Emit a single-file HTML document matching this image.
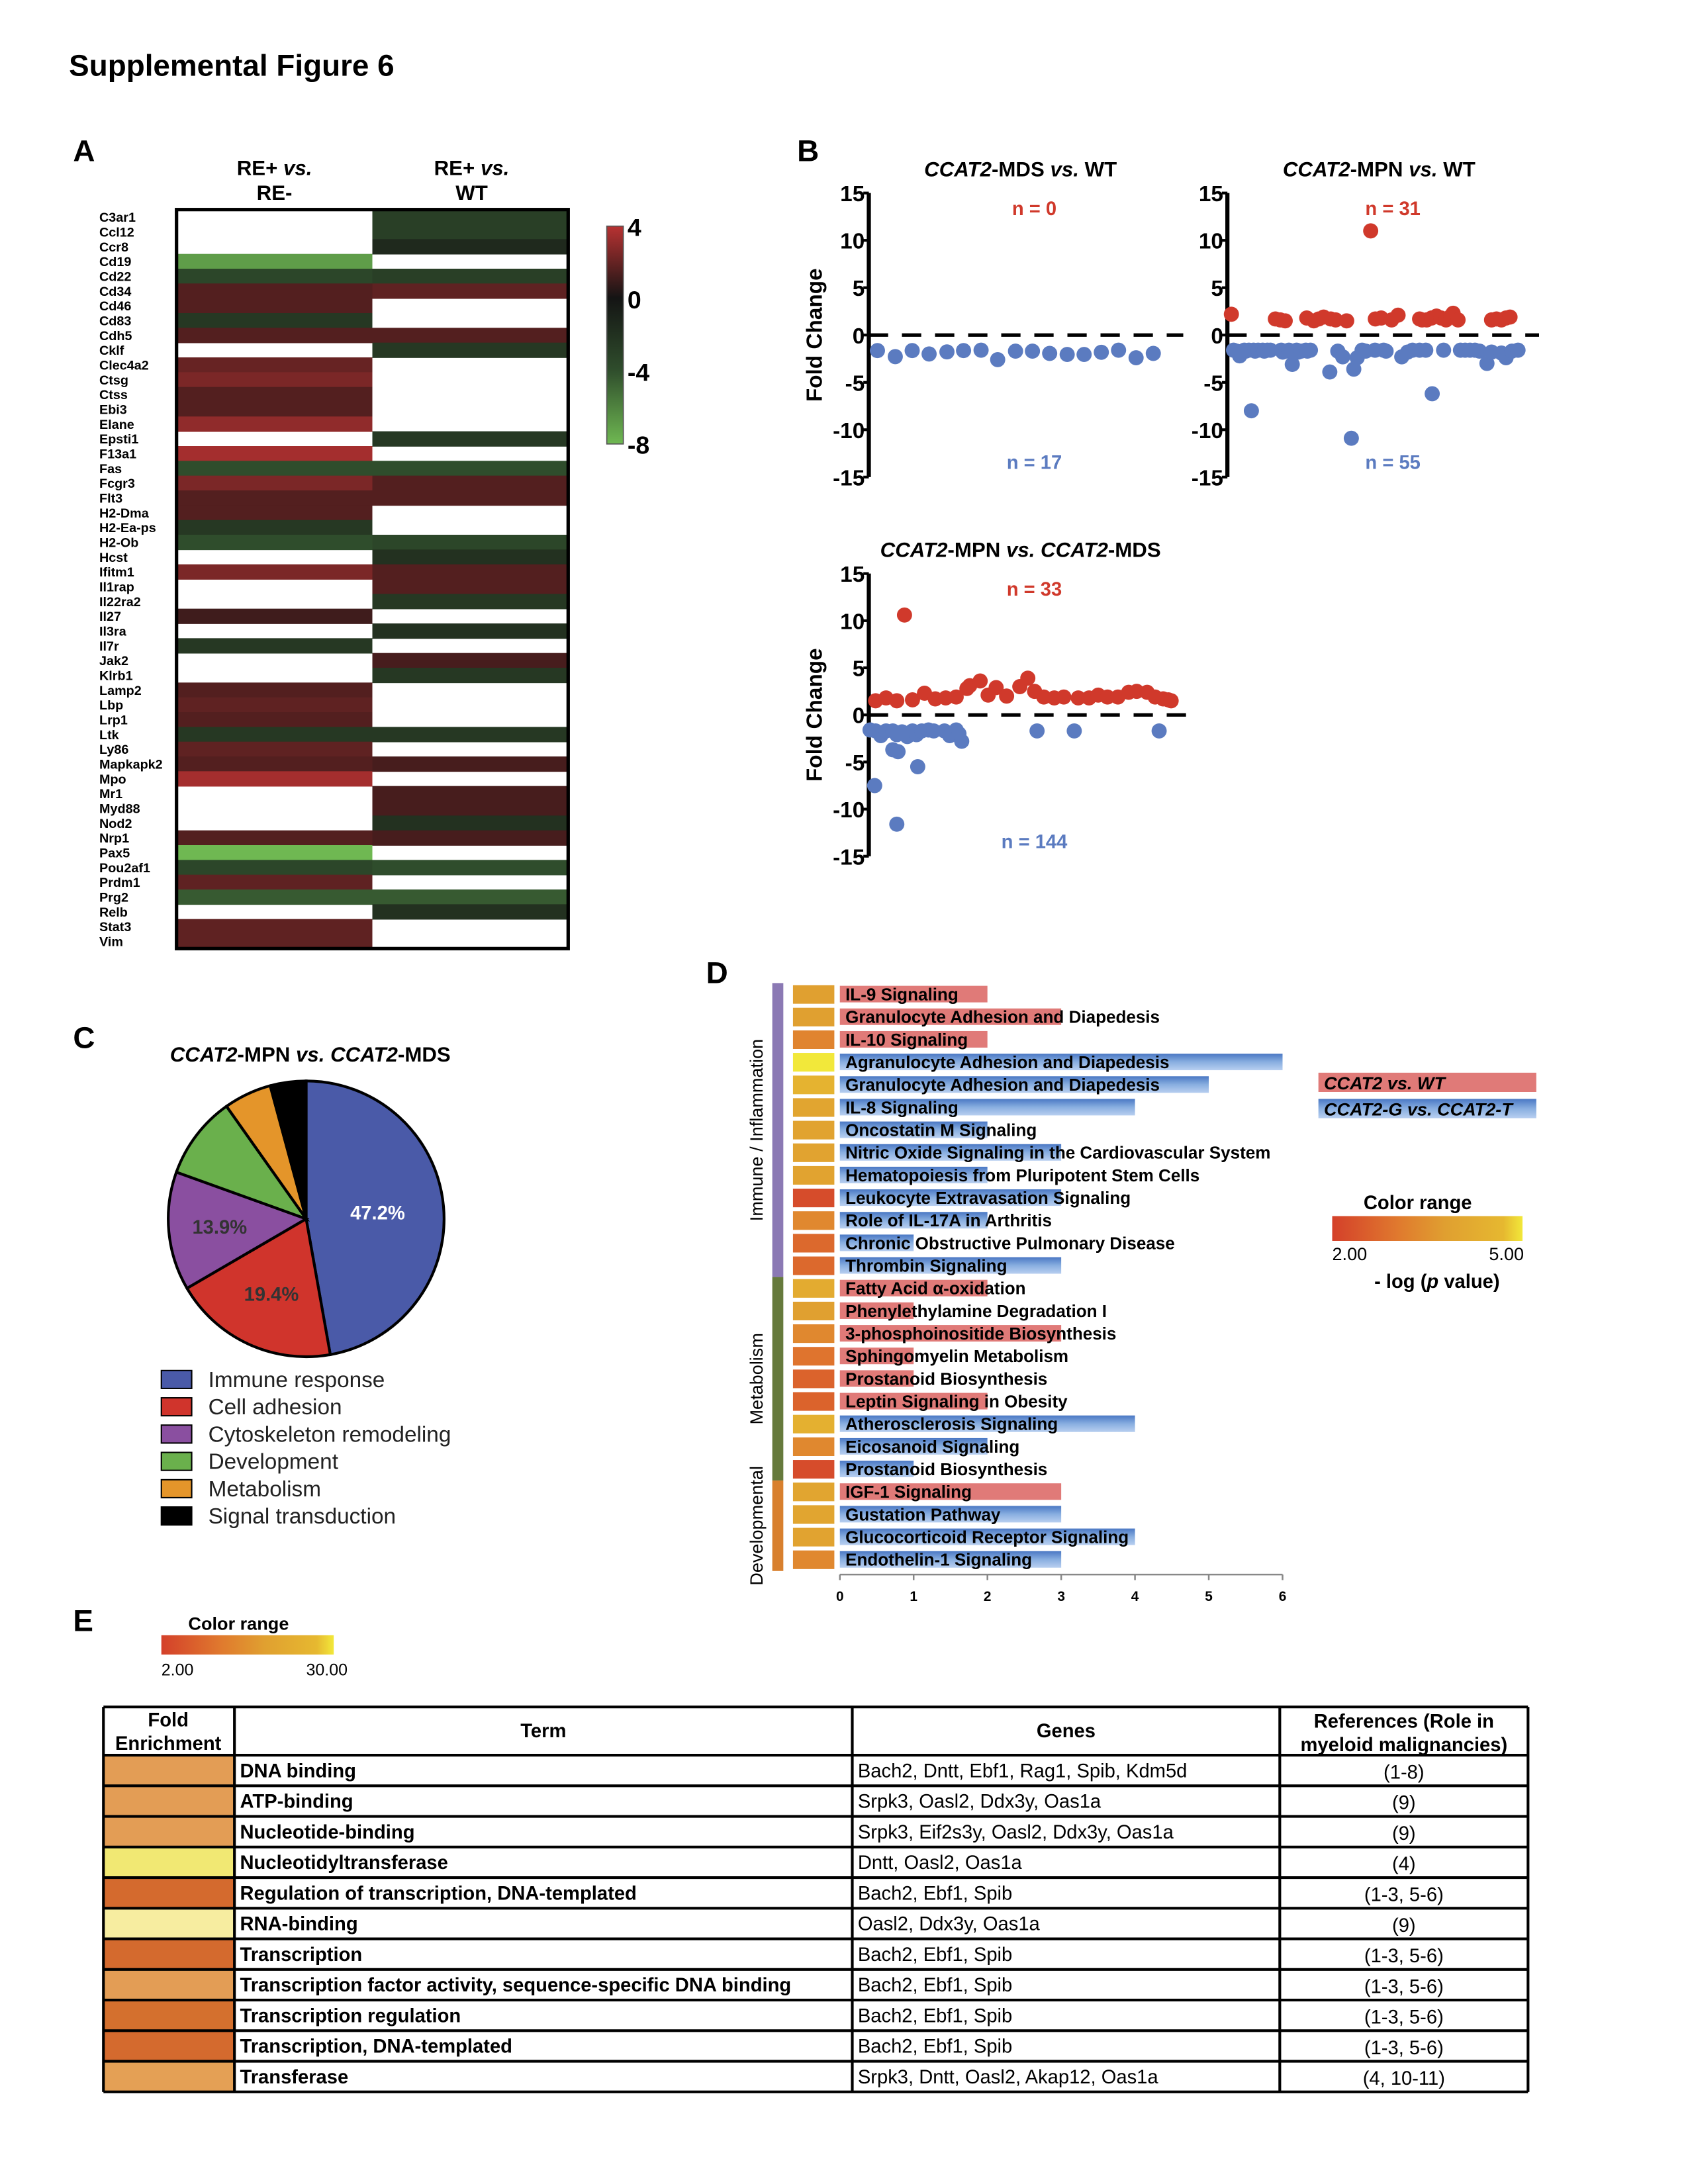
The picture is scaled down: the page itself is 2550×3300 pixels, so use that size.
<!DOCTYPE html>
<html><head><meta charset="utf-8">
<style>
html,body{margin:0;padding:0;background:#fff;}
svg{display:block;font-family:"Liberation Sans",Arial,sans-serif;}
.nar{font-family:"Liberation Sans Narrow","Liberation Sans",sans-serif;}
</style></head>
<body>
<svg id="fig" xmlns="http://www.w3.org/2000/svg" width="2550" height="3300" viewBox="0 0 1224 1584">
<defs>
<linearGradient id="hmGrad" x1="0" y1="0" x2="0" y2="1">
<stop offset="0" stop-color="#b83232"/><stop offset="0.33" stop-color="#141414"/><stop offset="0.66" stop-color="#2f4d2c"/><stop offset="1" stop-color="#6fb852"/>
</linearGradient>
<linearGradient id="heatGrad" x1="0" y1="0" x2="1" y2="0">
<stop offset="0" stop-color="#d4402a"/><stop offset="0.35" stop-color="#e07a2e"/><stop offset="0.6" stop-color="#e0a030"/><stop offset="0.9" stop-color="#e6b830"/><stop offset="1" stop-color="#f2e83a"/>
</linearGradient>
<linearGradient id="blueBar" x1="0" y1="0" x2="0" y2="1">
<stop offset="0" stop-color="#4a78c4"/><stop offset="0.5" stop-color="#88aee0"/><stop offset="1" stop-color="#b8cff0"/>
</linearGradient>
</defs>
<text x="50" y="55" font-size="22" font-weight="bold">Supplemental Figure 6</text>
<text x="53" y="117" font-size="22" font-weight="bold">A</text>
<text x="578" y="117" font-size="22" font-weight="bold">B</text>
<text x="53" y="760" font-size="22" font-weight="bold">C</text>
<text x="512" y="713" font-size="22" font-weight="bold">D</text>
<text x="53" y="1183" font-size="22" font-weight="bold">E</text>
<g id="gA"></g>
<g id="gB"></g>
<g id="gC"></g>
<g id="gD"></g>
<g id="gE"></g>
</svg>
<script>
const NS='http://www.w3.org/2000/svg';
// ---------- Panel A data ----------
const genes=['C3ar1','Ccl12','Ccr8','Cd19','Cd22','Cd34','Cd46','Cd83','Cdh5','Cklf','Clec4a2','Ctsg','Ctss','Ebi3','Elane','Epsti1','F13a1','Fas','Fcgr3','Flt3','H2-Dma','H2-Ea-ps','H2-Ob','Hcst','Ifitm1','Il1rap','Il22ra2','Il27','Il3ra','Il7r','Jak2','Klrb1','Lamp2','Lbp','Lrp1','Ltk','Ly86','Mapkapk2','Mpo','Mr1','Myd88','Nod2','Nrp1','Pax5','Pou2af1','Prdm1','Prg2','Relb','Stat3','Vim'];
const colREvsRE=[null,null,null,-7,-3.5,1.5,1.5,-2.5,1.5,null,2,2.5,1.5,1.5,3,null,3.5,-4,2.5,1.5,1.5,-2.5,-4,null,2.5,null,null,1,null,-2.5,null,null,1.5,1.8,1.5,-2.5,1.8,1.5,3.5,null,null,null,1.5,-8,-3.5,1.8,-4.5,null,1.8,1.8];
const colREvsWT=[-3,-3,-1.5,null,-3,1.8,null,null,1.5,-2.5,null,null,null,null,null,-2.5,null,-4,1.5,1.5,null,null,-3.5,-2,1.5,1.5,-2.5,null,-2,null,1.2,-2.5,null,null,null,-2.5,null,1.2,null,1.2,1.2,-2,1.2,null,-4,null,-4.5,-2,null,null];
const hmTicks=['4','0','-4','-8'];
// ---------- Panel B data ----------
const mdsBlueX=[2.8,8.6,14.1,19.6,25.4,30.8,36.5,41.9,47.7,53.2,58.8,64.5,70.0,75.6,81.2,86.9,92.5];
const mdsBlueY=[-1.64,-2.28,-1.64,-2.0,-1.78,-1.64,-1.6,-2.6,-1.7,-1.7,-1.94,-2.05,-2.05,-1.82,-1.6,-2.4,-1.94];
const mpnRedX=[1.3,15.6,17.2,18.8,25.8,28.1,29.7,31.3,33.6,35.2,38.8,46.6,48.1,50,53.4,55.5,62.5,63.3,64.8,66.4,68,69.5,71.1,72.7,73.4,75,85.9,87.5,89.1,90.6,91.9];
const mpnRedY=[2.2,1.7,1.6,1.5,1.8,1.5,1.7,1.9,1.7,1.6,1.5,11.0,1.7,1.8,1.6,2.1,1.7,1.6,1.6,1.8,2.0,1.8,1.6,2.0,2.3,1.6,1.6,1.7,1.6,1.8,1.9];
const mpnBlueX=[2,3,4,5.5,6,7,7.8,8.5,9,10,11.5,12,13,14,17.5,18,19,20,21,21.1,22.5,23,24,25.5,26,27,33.3,35.9,37.5,40.3,41.1,42.2,43.8,45,48,50.8,51.6,56.7,58.6,60.2,62.5,64.5,66.6,70.3,75.8,77.3,78.9,80.5,82,84.4,85.9,89.1,90.6,92.5,94.5];
const mpnBlueY=[-1.6,-1.7,-2.2,-1.6,-1.7,-1.6,-8.0,-1.6,-1.7,-1.6,-1.6,-1.7,-1.6,-1.6,-1.6,-1.8,-1.7,-1.6,-1.7,-3.1,-1.6,-1.8,-1.7,-1.6,-1.7,-1.6,-3.9,-1.7,-2.3,-10.9,-3.6,-2.4,-1.6,-1.7,-1.6,-1.6,-1.7,-2.3,-1.8,-1.6,-1.6,-1.6,-6.2,-1.6,-1.6,-1.6,-1.6,-1.6,-1.7,-3.0,-1.8,-1.9,-2.4,-1.7,-1.6];
const mvmRedX=[2.2,5.6,9.1,11.6,14.2,18.1,21.6,25.0,28.4,31.9,32.8,36.2,38.8,41.4,44.8,49.1,51.7,53.9,56.9,60.3,63.4,68.1,71.6,74.6,77.6,81.0,84.5,87.1,90.5,93.1,95.7,97.4,98.3];
const mvmRedY=[1.5,1.8,1.5,10.6,1.6,2.3,1.7,1.8,1.9,2.8,3.1,3.6,2.1,2.9,2.0,3.0,3.9,2.5,1.9,1.8,1.9,1.8,1.8,2.1,1.9,1.9,2.4,2.5,2.4,1.9,1.7,1.6,1.5];
const mvmBlueX=[0.4,2.2,3.9,5.6,7.8,9.1,10.8,12.5,14.2,15.5,17.2,19.4,21.1,24.6,26.3,28.4,29.3,30.2,7.8,9.5,15.9,1.9,9.1,54.7,66.8,94.4];
const mvmBlueY=[-1.6,-1.7,-2.2,-1.7,-1.7,-2.1,-1.8,-2.3,-1.7,-2.1,-1.7,-1.6,-1.7,-1.7,-2.2,-1.6,-2.0,-2.8,-3.7,-3.9,-5.5,-7.5,-11.6,-1.7,-1.7,-1.7];
const fcTicks=[15,10,5,0,-5,-10,-15];
// ---------- Panel C data ----------
const pieCats=['Immune response','Cell adhesion','Cytoskeleton remodeling','Development','Metabolism','Signal transduction'];
const pieVals=[47.2,19.4,13.9,9.7,5.6,4.2];
const pieLabels=['47.2%','19.4%','13.9%','','',''];
// ---------- Panel D data ----------
const pathNames=['IL-9 Signaling','Granulocyte Adhesion and Diapedesis','IL-10 Signaling','Agranulocyte Adhesion and Diapedesis','Granulocyte Adhesion and Diapedesis','IL-8 Signaling','Oncostatin M Signaling','Nitric Oxide Signaling in the Cardiovascular System','Hematopoiesis from Pluripotent Stem Cells','Leukocyte Extravasation Signaling','Role of IL-17A in Arthritis','Chronic Obstructive Pulmonary Disease','Thrombin Signaling','Fatty Acid \u03b1-oxidation','Phenylethylamine Degradation I','3-phosphoinositide Biosynthesis','Sphingomyelin Metabolism','Prostanoid Biosynthesis','Leptin Signaling in Obesity','Atherosclerosis Signaling','Eicosanoid Signaling','Prostanoid Biosynthesis','IGF-1 Signaling','Gustation Pathway','Glucocorticoid Receptor Signaling','Endothelin-1 Signaling'];
const pathVals=[2,3,2,6,5,4,2,3,2,3,2,1,3,2,1,3,1,1,2,4,2,1,3,3,4,3];
const pathSeries=['r','r','r','b','b','b','b','b','b','b','b','b','b','r','r','r','r','r','r','b','b','b','r','b','b','b'];
const pathLogP=[3.8,3.8,3.2,5.0,4.5,4.0,3.9,3.9,3.9,2.2,3.3,2.7,2.7,4.2,3.8,3.3,2.9,2.6,2.6,4.4,3.3,2.2,4.0,4.0,3.9,3.3];
const xTicksD=[0,1,2,3,4,5,6];
// ---------- Panel E data ----------
const tTerms=['DNA binding','ATP-binding','Nucleotide-binding','Nucleotidyltransferase','Regulation of transcription, DNA-templated','RNA-binding','Transcription','Transcription factor activity, sequence-specific DNA binding','Transcription regulation','Transcription, DNA-templated','Transferase'];
const tGenes=['Bach2, Dntt, Ebf1, Rag1, Spib, Kdm5d','Srpk3, Oasl2, Ddx3y, Oas1a','Srpk3, Eif2s3y, Oasl2, Ddx3y, Oas1a','Dntt, Oasl2, Oas1a','Bach2, Ebf1, Spib','Oasl2, Ddx3y, Oas1a','Bach2, Ebf1, Spib','Bach2, Ebf1, Spib','Bach2, Ebf1, Spib','Bach2, Ebf1, Spib','Srpk3, Dntt, Oasl2, Akap12, Oas1a'];
const tRefs=['(1-8)','(9)','(9)','(4)','(1-3, 5-6)','(9)','(1-3, 5-6)','(1-3, 5-6)','(1-3, 5-6)','(1-3, 5-6)','(4, 10-11)'];
const tColors=['#e39d55','#e39d55','#e39d55','#f1e873','#d46a2e','#f7eda0','#d46a2e','#e39d55','#d4702e','#d46a2e','#e4a055'];

function el(tag,attrs,parent,txt){const e=document.createElementNS(NS,tag);for(const k in attrs)e.setAttribute(k,attrs[k]);if(txt!==undefined)e.textContent=txt;parent.appendChild(e);return e;}
function lerp(a,b,t){return a.map((v,i)=>Math.round(v+(b[i]-v)*t));}
function hmColor(v){const R=[184,50,50],K=[22,20,20],G=[47,77,44],L=[111,184,82];let c;
 if(v>=0)c=lerp(K,R,Math.min(v/4,1));else if(v>=-4)c=lerp(K,G,-v/4);else c=lerp(G,L,Math.min((-v-4)/4,1));return 'rgb('+c.join(',')+')';}

// ===== Panel A =====
const gA=document.getElementById('gA');
const hx0=128,hx1=412,hxm=270,hy0=152,hy1=688,rh=(hy1-hy0)/genes.length;
let t=el('text',{x:199,y:127,'font-size':15,'font-weight':'bold','text-anchor':'middle'},gA);
t.innerHTML='RE+ <tspan font-style="italic">vs.</tspan>';


t=el('text',{x:199,y:145,'font-size':15,'font-weight':'bold','text-anchor':'middle'},gA,'RE-');


t=el('text',{x:342,y:127,'font-size':15,'font-weight':'bold','text-anchor':'middle'},gA);
t.innerHTML='RE+ <tspan font-style="italic">vs.</tspan>';


t=el('text',{x:342,y:145,'font-size':15,'font-weight':'bold','text-anchor':'middle'},gA,'WT');


genes.forEach((g,i)=>{
 const y=hy0+i*rh;
 const lab=el('text',{x:72,y:y+rh/2+3.5,'font-size':9.5,'font-weight':'bold'},gA,g);
 
 
 [[colREvsRE[i],hx0,hxm],[colREvsWT[i],hxm,hx1]].forEach(([v,a,b])=>{
  if(v===null)return;
  const r=el('rect',{x:a,y:y,width:b-a,height:rh+0.4,fill:hmColor(v)},gA);
  
  
 });
});
t=el('rect',{x:hx0,y:hy0,width:hx1-hx0,height:hy1-hy0,fill:'none',stroke:'#000','stroke-width':2.5},gA);


t=el('rect',{x:440,y:164,width:12,height:158,fill:'url(#hmGrad)',stroke:'#555','stroke-width':0.8},gA);


hmTicks.forEach((s,i)=>{const y=164+i*158/3;
 const tk=el('text',{x:455,y:y+7,'font-size':18,'font-weight':'bold'},gA,s);
 
 
});

// ===== Panel B =====
const gB=document.getElementById('gB');
function scatter(ax,yTop,yBot,dashEnd,title,nRed,nBlue,rX,rY,bX,bY,ylab,nameP){
 const y0=(yTop+yBot)/2,k=(yBot-yTop)/30;const ys=v=>y0-v*k;const xs=u=>ax+u*2.23;
 const g=el('g',{},gB);
 
 
 let tt=el('text',{x:ax+110,y:yTop-12,'font-size':15,'font-weight':'bold','text-anchor':'middle'},g);
 tt.innerHTML=title;
 
 
 const axl=el('line',{x1:ax,y1:yTop,x2:ax,y2:yBot,stroke:'#000','stroke-width':3},g);
 
 
 fcTicks.forEach(v=>{
  const tk=el('line',{x1:ax-4,y1:ys(v),x2:ax,y2:ys(v),stroke:'#000','stroke-width':2},g);
  
  
  const tl=el('text',{x:ax-3,y:ys(v)+6,'font-size':16,'font-weight':'bold','text-anchor':'end'},g,String(v));
  
  
 });
 const dl=el('line',{x1:ax,y1:ys(0),x2:dashEnd,y2:ys(0),stroke:'#000','stroke-width':2.5,'stroke-dasharray':'14,10'},g);
 
 
 rX.forEach((u,i)=>{const c=el('circle',{cx:xs(u),cy:ys(rY[i]),r:5.5,fill:'#d0392b'},g);
  
  });
 bX.forEach((u,i)=>{const c=el('circle',{cx:xs(u),cy:ys(bY[i]),r:5.5,fill:'#5b7bc0'},g);
  
  });
 const nr=el('text',{x:ax+120,y:yTop+16,'font-size':14,'font-weight':'bold',fill:'#d0392b','text-anchor':'middle'},g,nRed);
 
 
 const nb=el('text',{x:ax+120,y:yBot-6,'font-size':14,'font-weight':'bold',fill:'#5b7bc0','text-anchor':'middle'},g,nBlue);
 
 
 if(ylab){const yl=el('text',{x:0,y:0,'font-size':16,'font-weight':'bold','text-anchor':'middle',transform:'translate('+(ax-34)+','+y0+') rotate(-90)'},g,'Fold Change');
  
  }
}
scatter(630,140,346,858,'<tspan font-style="italic">CCAT2</tspan>-MDS <tspan font-style="italic">vs.</tspan> WT','n = 0','n = 17',[],[],mdsBlueX,mdsBlueY,true,'mds-vs-wt');
scatter(890,140,346,1116,'<tspan font-style="italic">CCAT2</tspan>-MPN <tspan font-style="italic">vs.</tspan> WT','n = 31','n = 55',mpnRedX,mpnRedY,mpnBlueX,mpnBlueY,false,'mpn-vs-wt');
scatter(630,416,621,864,'<tspan font-style="italic">CCAT2</tspan>-MPN <tspan font-style="italic">vs. CCAT2</tspan>-MDS','n = 33','n = 144',mvmRedX,mvmRedY,mvmBlueX,mvmBlueY,true,'mpn-vs-mds');

// ===== Panel C =====
const gC=document.getElementById('gC');
const pieColors=['#4a5aa8','#d0342c','#8a4fa0','#6ab04c','#e4952a','#000000'];
t=el('text',{x:225,y:770,'font-size':15,'font-weight':'bold','text-anchor':'middle'},gC);
t.innerHTML='<tspan font-style="italic">CCAT2</tspan>-MPN <tspan font-style="italic">vs. CCAT2</tspan>-MDS';


const pcx=222,pcy=884,PR=100;const tot=pieVals.reduce((a,b)=>a+b,0);let ang=-Math.PI/2;
pieVals.forEach((v,i)=>{
 const a2=ang+v/tot*2*Math.PI;const large=(a2-ang)>Math.PI?1:0;
 const p=el('path',{d:`M${pcx},${pcy} L${pcx+PR*Math.cos(ang)},${pcy+PR*Math.sin(ang)} A${PR},${PR} 0 ${large} 1 ${pcx+PR*Math.cos(a2)},${pcy+PR*Math.sin(a2)} Z`,fill:pieColors[i],stroke:'#000','stroke-width':2},gC);
 
 
 if(pieLabels[i]){const m=(ang+a2)/2;const rr=i==0?52:i==1?60:63;
  const pl=el('text',{x:pcx+rr*Math.cos(m),y:pcy+rr*Math.sin(m)+5,'font-size':14,'font-weight':'bold','text-anchor':'middle',fill:i==0?'#fff':'#333'},gC,pieLabels[i]);
  
  }
 ang=a2;
});
pieCats.forEach((c,i)=>{const y=994+i*19.8;
 const s=el('rect',{x:117,y:y,width:22,height:13,fill:pieColors[i],stroke:'#000','stroke-width':1},gC);
 
 
 const lt=el('text',{x:151,y:y+12,'font-size':16,fill:'#222'},gC,c);
 
 
});

// ===== Panel D =====
const gD=document.getElementById('gD');
const dx0=609,du=53.5,dy0=713,dsp=16.4;const dxs=v=>dx0+v*du;
function heatColor(lp){const stops=[[2,[212,64,42]],[3,[224,122,46]],[3.8,[224,160,48]],[4.7,[230,184,48]],[5,[242,232,58]]];
 for(let i=1;i<stops.length;i++)if(lp<=stops[i][0]){const tt=(lp-stops[i-1][0])/(stops[i][0]-stops[i-1][0]);return 'rgb('+lerp(stops[i-1][1],stops[i][1],Math.max(0,tt)).join(',')+')';}
 return 'rgb(242,232,58)';}
[['#8b79b4',0,13,'Immune / Inflammation'],['#667a3c',13,22,'Metabolism'],['#d8802e',22,26,'Developmental']].forEach(([c,a,b,n])=>{
 const r=el('rect',{x:560,y:dy0+a*dsp,width:8,height:(b-a)*dsp,fill:c},gD);
 
 
 const my=dy0+(a+b)/2*dsp;
 const tx=el('text',{x:0,y:0,'font-size':13,'text-anchor':'middle',transform:`translate(553,${my}) rotate(-90)`},gD,n);
 
 
});
pathNames.forEach((n,i)=>{const y=dy0+i*dsp;
 const sq=el('rect',{x:575,y:y+1.5,width:30,height:13.5,fill:heatColor(pathLogP[i])},gD);
 
 
 const b=el('rect',{x:dx0,y:y+2,width:dxs(pathVals[i])-dx0,height:12,fill:pathSeries[i]=='r'?'#e07a78':'url(#blueBar)'},gD);
 
 
 const l=el('text',{x:613,y:y+12.5,'font-size':12.5,'font-weight':'bold',class:'nar'},gD,n);
 
 
});
t=el('line',{x1:dx0,y1:1142,x2:dxs(6),y2:1142,stroke:'#888','stroke-width':1.2},gD);


xTicksD.forEach(v=>{const tk=el('line',{x1:dxs(v),y1:1142,x2:dxs(v),y2:1146,stroke:'#888','stroke-width':1.2},gD);
 
 
 const tl=el('text',{x:dxs(v),y:1161,'font-size':10,'font-weight':'bold','text-anchor':'middle'},gD,String(v));
 
 });
t=el('rect',{x:956,y:778,width:158,height:14,fill:'#e07a78'},gD);


t=el('rect',{x:956,y:797,width:158,height:14,fill:'url(#blueBar)'},gD);


t=el('text',{x:960,y:790,'font-size':13,'font-weight':'bold','font-style':'italic',class:'nar'},gD,'CCAT2 vs. WT');


t=el('text',{x:960,y:809,'font-size':13,'font-weight':'bold','font-style':'italic',class:'nar'},gD,'CCAT2-G vs. CCAT2-T');


t=el('text',{x:1028,y:877,'font-size':14,'font-weight':'bold','text-anchor':'middle',class:'nar'},gD,'Color range');


t=el('rect',{x:966,y:882,width:138,height:18,fill:'url(#heatGrad)'},gD);


t=el('text',{x:966,y:914,'font-size':13,class:'nar'},gD,'2.00');


t=el('text',{x:1105,y:914,'font-size':13,'text-anchor':'end',class:'nar'},gD,'5.00');


t=el('text',{x:1042,y:934,'font-size':14,'font-weight':'bold','text-anchor':'middle',class:'nar'},gD);
t.innerHTML='- log (<tspan font-style="italic">p</tspan> value)';



// ===== Panel E =====
const gE=document.getElementById('gE');
t=el('text',{x:173,y:1182,'font-size':13,'font-weight':'bold','text-anchor':'middle',class:'nar'},gE,'Color range');


t=el('rect',{x:117,y:1186,width:125,height:14,fill:'url(#heatGrad)'},gE);


t=el('text',{x:117,y:1215,'font-size':12,class:'nar'},gE,'2.00');


t=el('text',{x:252,y:1215,'font-size':12,'text-anchor':'end',class:'nar'},gE,'30.00');


const tCols=[75,170,618,928,1108],tTop=1238,hh=35,rH=22.2;
const tBot=tTop+hh+tTerms.length*rH;
tTerms.forEach((s,i)=>{const y=tTop+hh+i*rH;
 const c=el('rect',{x:75,y:y,width:95,height:rH,fill:tColors[i]},gE);
 
 
 const a=el('text',{x:174,y:y+16,'font-size':14,'font-weight':'bold',class:'nar'},gE,s);
 
 
 const b=el('text',{x:622,y:y+16,'font-size':14,class:'nar'},gE,tGenes[i]);
 
 
 const r=el('text',{x:1018,y:y+17,'font-size':14,'text-anchor':'middle',class:'nar'},gE,tRefs[i]);
 
 
});
for(let i=0;i<=tTerms.length+1;i++){const y=i==0?tTop:tTop+hh+(i-1)*rH;
 const ln=el('line',{x1:75,y1:y,x2:1108,y2:y,stroke:'#000','stroke-width':2},gE);
 
 }
tCols.forEach(x=>{const ln=el('line',{x1:x,y1:tTop,x2:x,y2:tBot,stroke:'#000','stroke-width':2},gE);
 
 });
[['Fold',122,1252],['Enrichment',122,1269],['Term',394,1260],['Genes',773,1260],['References (Role in',1018,1253],['myeloid malignancies)',1018,1270]].forEach(([s,x,y])=>{
 const h=el('text',{x:x,y:y,'font-size':14,'font-weight':'bold','text-anchor':'middle',class:'nar'},gE,s);
 
 });
</script>
</body></html>
